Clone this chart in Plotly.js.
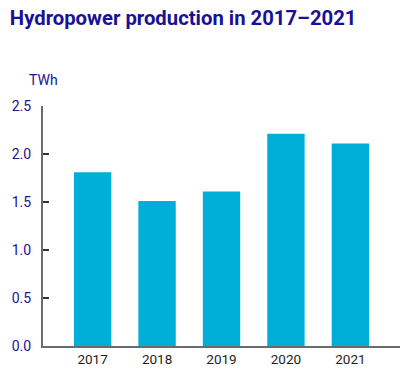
<!DOCTYPE html>
<html><head><meta charset="utf-8">
<script src="https://cdn.plot.ly/plotly-3.0.1.min.js"></script>
<style>html,body{margin:0;padding:0;background:#fff}#chart{width:410px;height:389px}</style>
</head><body><div id="chart"></div>
<script>
const years = ['2017','2018','2019','2020','2021'];
const production = [1.81, 1.51, 1.61, 2.21, 2.11];
const yTicks = [0, 0.5, 1.0, 1.5, 2.0, 2.5];

Plotly.newPlot('chart', [{
  type: 'bar', x: years, y: production, width: 0.58,
  marker: {color: '#00AFD7'}, hoverinfo: 'skip'
}], {
  width: 410, height: 389,
  margin: {l: 43, r: 10, t: 106, b: 43},
  paper_bgcolor: '#fff', plot_bgcolor: '#fff',
  font: {family: 'Roboto, sans-serif'},
  title: {text: '<b>Hydropower production in 2017–2021</b>', x: 0.024, xanchor: 'left', y: 0.955, yanchor: 'middle',
    font: {size: 20.3, color: '#1a1196', family: 'Roboto, sans-serif'}},
  xaxis: {type: 'category', range: [-0.77, 4.77], showline: true, linecolor: '#6b6b6b', linewidth: 2,
    ticks: '', showgrid: false, zeroline: false, tickfont: {size: 13.5, color: '#1e1e1e'}},
  yaxis: {range: [0, 2.5], tickvals: yTicks, tickformat: '.1f', showline: true, linecolor: '#6b6b6b', linewidth: 2,
    ticks: 'inside', ticklen: 6, tickwidth: 1.5, tickcolor: '#333', showgrid: false, zeroline: false,
    ticklabelstandoff: 7, tickfont: {size: 14, color: '#1a1196'}},
  annotations: [{text: 'TWh', xref: 'paper', yref: 'paper', x: -0.045, y: 1.11, xanchor: 'left', yanchor: 'middle',
    showarrow: false, font: {size: 14, color: '#1a1196'}}],
  bargap: 0.42
}, {displayModeBar: false, staticPlot: true});
</script></body></html>
